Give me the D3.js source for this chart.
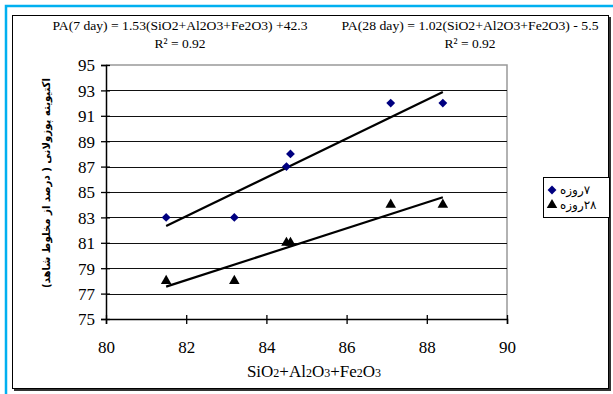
<html lang="fa">
  <head>
    <meta charset="utf-8" />
    <title>Pozzolanic activity</title>
    <style>
     body { margin: 0; background: #fff; }
    </style>
  </head>
  <body>
    <div id="chart"></div>
    <script src="https://cdn.jsdelivr.net/npm/d3@7"></script>
    <script>

     // data
     var oxides = [81.5, 83.2, 84.5, 84.6, 87.1, 88.4];
     var day7 = [83, 83, 87, 88, 92, 92];
     var day28 = [78, 78, 81, 81, 84, 84];
     var xTicks = [80, 82, 84, 86, 88, 90];
     var yTicks = [75, 77, 79, 81, 83, 85, 87, 89, 91, 93, 95];
     var seriesNames = ["۷روزه", "۲۸روزه"];
     var equations = ["PA(7 day) = 1.53(SiO2+Al2O3+Fe2O3) +42.3", "PA(28 day) = 1.02(SiO2+Al2O3+Fe2O3) - 5.5"];
     var r2 = ["R² = 0.92", "R² = 0.92"];

     var SERIF = "'Liberation Serif', 'Times New Roman', serif";
     var FA = "'DejaVu Sans', sans-serif";

     var W = 613, H = 394;
     var svg = d3.select("#chart").append("svg")
                 .attr("width", W).attr("height", H);

     // outer frames
     svg.append("path").attr("d", "M6,394 V6 H613")
        .attr("fill", "none").attr("stroke", "#00b0f0").attr("stroke-width", 2.5);
     svg.append("rect").attr("x", 14).attr("y", 17).attr("width", 597).attr("height", 374)
        .attr("fill", "#333");
     svg.append("rect").attr("x", 12.5).attr("y", 15.5).attr("width", 596).attr("height", 373)
        .attr("fill", "#fff").attr("stroke", "#000").attr("stroke-width", 1);

     var x = d3.scaleLinear().domain([80, 90]).range([106, 507]);
     var y = d3.scaleLinear().domain([75, 95]).range([319, 65]);

     // plot border + gridlines
     svg.append("path").attr("d", "M" + x(80) + "," + y(95) + " H" + x(90) + " V" + y(75))
        .attr("fill", "none").attr("stroke", "#999").attr("stroke-width", 1.5);
     svg.selectAll(".grid").data(yTicks.slice(1, -1)).enter().append("line")
        .attr("x1", x(80)).attr("x2", x(90))
        .attr("y1", function(d){ return Math.round(y(d)) + 0.5; })
        .attr("y2", function(d){ return Math.round(y(d)) + 0.5; })
        .attr("stroke", "#111").attr("stroke-width", 1.2);

     // axes
     var yAxis = svg.append("g").attr("transform", "translate(" + x(80) + ",0)")
        .call(d3.axisLeft(y).tickValues(yTicks).tickSize(5).tickPadding(6));
     var xAxis = svg.append("g").attr("transform", "translate(0," + y(75) + ")")
        .call(d3.axisBottom(x).tickValues(xTicks).tickSize(5).tickPadding(17));
     [yAxis, xAxis].forEach(function(a){
       a.attr("font-family", null);
       a.select(".domain").attr("stroke", "#000").attr("stroke-width", 1.5);
       a.selectAll(".tick line").attr("stroke", "#000").attr("stroke-width", 1.3);
       a.selectAll(".tick text").style("font-family", SERIF).style("font-size", "17px").attr("fill", "#000");
     });
     yAxis.selectAll(".tick line").attr("x2", 4).attr("x1", -5);
     xAxis.selectAll(".tick line").attr("y1", -4).attr("y2", 5);
     yAxis.selectAll(".tick text").attr("dy", "0.35em");

     // trend lines (least squares over each series)
     function fit(xs, ys) {
       var mx = d3.mean(xs), my = d3.mean(ys), sxy = 0, sxx = 0;
       xs.forEach(function(v, i){ sxy += (v - mx) * (ys[i] - my); sxx += (v - mx) * (v - mx); });
       var b = sxy / sxx;
       return function(v){ return my + b * (v - mx); };
     }
     [day7, day28].forEach(function(ys){
       var f = fit(oxides, ys);
       var x0 = d3.min(oxides), x1 = d3.max(oxides);
       svg.append("line")
          .attr("x1", x(x0)).attr("y1", y(f(x0)))
          .attr("x2", x(x1)).attr("y2", y(f(x1)))
          .attr("stroke", "#000").attr("stroke-width", 2.2);
     });

     // markers
     var diamond = d3.symbol().type(d3.symbolDiamond2).size(50);
     var tri = d3.symbol().type(d3.symbolTriangle).size(48);
     svg.selectAll(".p7").data(oxides).enter().append("path")
        .attr("d", diamond)
        .attr("transform", function(d, i){ return "translate(" + x(d) + "," + y(day7[i]) + ")"; })
        .attr("fill", "#000080");
     svg.selectAll(".p28").data(oxides).enter().append("path")
        .attr("d", tri)
        .attr("transform", function(d, i){ return "translate(" + x(d) + "," + y(day28[i]) + ")"; })
        .attr("fill", "#000");

     // equations
     var eqX = [180, 470], eqW = [255, 257];
     equations.forEach(function(t, i){
       svg.append("text").attr("x", eqX[i]).attr("y", 30).attr("text-anchor", "middle")
          .style("font-family", SERIF).style("font-size", "13.5px")
          .attr("textLength", eqW[i]).attr("lengthAdjust", "spacingAndGlyphs").text(t);
       svg.append("text").attr("x", eqX[i]).attr("y", 48).attr("text-anchor", "middle")
          .style("font-family", SERIF).style("font-size", "13.5px").text(r2[i]);
     });

     // axis titles
     var xt = svg.append("text").attr("x", 314).attr("y", 377).attr("text-anchor", "middle")
                 .style("font-family", SERIF).style("font-size", "17px");
     [["SiO", 17], ["2", 12], ["+Al", 17], ["2", 12], ["O", 17], ["3", 12], ["+Fe", 17], ["2", 12], ["O", 17], ["3", 12]]
       .forEach(function(p){ xt.append("tspan").style("font-size", p[1] + "px").text(p[0]); });

     svg.append("text")
        .attr("transform", "translate(50,183) rotate(-90)")
        .attr("text-anchor", "middle").attr("direction", "rtl")
        .style("font-family", FA).style("font-size", "11px").attr("font-weight", "bold")
        .attr("textLength", 210).attr("lengthAdjust", "spacingAndGlyphs")
        .text("اکتیویته پوزولانی (   درصد از مخلوط شاهد)");

     // legend
     svg.append("rect").attr("x", 543.5).attr("y", 177.5).attr("width", 66).attr("height", 40)
        .attr("fill", "#fff").attr("stroke", "#000").attr("stroke-width", 1);
     var syms = [diamond, tri], cols = ["#000080", "#000"];
     seriesNames.forEach(function(n, i){
       var ly = 190 + i * 15;
       svg.append("path").attr("d", syms[i]).attr("fill", cols[i])
          .attr("transform", "translate(552," + ly + ")");
       svg.append("text").attr("x", 560).attr("y", ly + 4)
          .attr("direction", "rtl").attr("text-anchor", "end")
          .style("font-family", FA).style("font-size", "12px").text(n);
     });

    </script>
  </body>
</html>
